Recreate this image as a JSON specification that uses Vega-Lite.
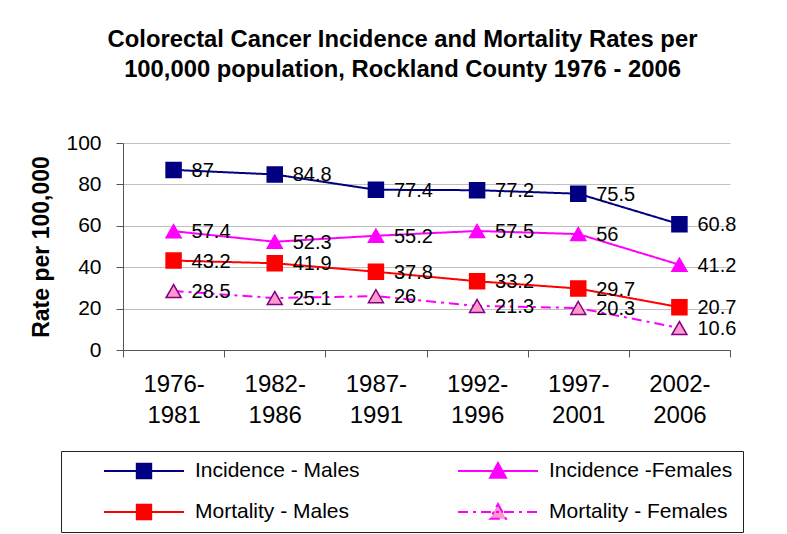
{
  "$schema": "https://vega.github.io/schema/vega-lite/v6.json",
  "width": 607,
  "height": 207,
  "autosize": {"type": "none"},
  "padding": {"left": 123, "top": 143, "right": 57, "bottom": 184},
  "background": "white",
  "config": {
    "font": "Liberation Sans",
    "view": {"stroke": null},
    "axis": {"labelFont": "Liberation Sans", "titleFont": "Liberation Sans"}
  },
  "title": {
    "text": ["Colorectal Cancer Incidence and Mortality Rates per", "100,000 population, Rockland County 1976 - 2006"],
    "fontSize": 23.8,
    "fontWeight": "bold",
    "lineHeight": 30,
    "anchor": "middle",
    "frame": "group",
    "dx": -24,
    "offset": 50,
    "color": "black"
  },
  "data": {
    "values": [
      {"period": "1976-1981", "series": "Incidence - Males", "value": 87},
      {"period": "1982-1986", "series": "Incidence - Males", "value": 84.8},
      {"period": "1987-1991", "series": "Incidence - Males", "value": 77.4},
      {"period": "1992-1996", "series": "Incidence - Males", "value": 77.2},
      {"period": "1997-2001", "series": "Incidence - Males", "value": 75.5},
      {"period": "2002-2006", "series": "Incidence - Males", "value": 60.8},
      {"period": "1976-1981", "series": "Incidence -Females", "value": 57.4},
      {"period": "1982-1986", "series": "Incidence -Females", "value": 52.3},
      {"period": "1987-1991", "series": "Incidence -Females", "value": 55.2},
      {"period": "1992-1996", "series": "Incidence -Females", "value": 57.5},
      {"period": "1997-2001", "series": "Incidence -Females", "value": 56},
      {"period": "2002-2006", "series": "Incidence -Females", "value": 41.2},
      {"period": "1976-1981", "series": "Mortality - Males", "value": 43.2},
      {"period": "1982-1986", "series": "Mortality - Males", "value": 41.9},
      {"period": "1987-1991", "series": "Mortality - Males", "value": 37.8},
      {"period": "1992-1996", "series": "Mortality - Males", "value": 33.2},
      {"period": "1997-2001", "series": "Mortality - Males", "value": 29.7},
      {"period": "2002-2006", "series": "Mortality - Males", "value": 20.7},
      {"period": "1976-1981", "series": "Mortality - Females", "value": 28.5},
      {"period": "1982-1986", "series": "Mortality - Females", "value": 25.1},
      {"period": "1987-1991", "series": "Mortality - Females", "value": 26},
      {"period": "1992-1996", "series": "Mortality - Females", "value": 21.3},
      {"period": "1997-2001", "series": "Mortality - Females", "value": 20.3},
      {"period": "2002-2006", "series": "Mortality - Females", "value": 10.6}
    ]
  },
  "encoding": {
    "x": {
      "field": "period", "type": "nominal", "sort": null,
      "scale": {"paddingInner": 0, "paddingOuter": 0},
      "axis": {
        "title": null, "labelAngle": 0, "labelFontSize": 24, "labelColor": "black",
        "labelExpr": "[slice(datum.label,0,5), slice(datum.label,5)]",
        "labelLineHeight": 31, "labelPadding": 15, "tickBand": "extent",
        "tickSize": 7, "tickColor": "#555", "domainColor": "#555", "grid": false
      }
    },
    "y": {
      "field": "value", "type": "quantitative",
      "scale": {"domain": [0, 100], "nice": false},
      "axis": {
        "title": "Rate per 100,000", "titleFontSize": 23, "titleFontWeight": "bold", "titleColor": "black",
        "titlePadding": 12,
        "values": [0, 20, 40, 60, 80, 100], "labelFontSize": 21, "labelColor": "black", "labelPadding": 15,
        "tickSize": 7, "tickColor": "#555", "domainColor": "#555",
        "gridColor": "#C0C0C0", "gridWidth": 1
      }
    }
  },
  "layer": [
    {
      "mark": {"type": "line", "strokeWidth": 2},
      "encoding": {
        "color": {
          "field": "series", "type": "nominal",
          "scale": {"domain": ["Incidence - Males", "Incidence -Females", "Mortality - Males", "Mortality - Females"],
                    "range": ["#000080", "#FF00FF", "#FF0000", "#FF00FF"]},
          "legend": {
            "title": null, "orient": "none", "legendX": -62, "legendY": 308,
            "direction": "horizontal", "columns": 2, "columnPadding": 65, "rowPadding": 20,
            "strokeColor": "#222", "padding": 10, "fillColor": "white",
            "labelFontSize": 21, "labelColor": "black", "labelFont": "Liberation Sans", "labelLimit": 600,
            "labelExpr": "indexof(datum.label, 'Females') >= 0 ? datum.label + '\u00a0\u00a0\u00a0\u00a0\u00a0\u00a0\u00a0\u00a0\u00a0\u00a0\u00a0\u00a0\u00a0\u00a0\u00a0' : datum.label",
            "symbolSize": 6400, "symbolStrokeWidth": 2, "symbolOffset": 32, "labelOffset": 10, "clipHeight": 20,
            "encode": {
              "symbols": {
                "update": {
                  "shape": {"signal": "(datum.value === 'Incidence - Males' || datum.value === 'Mortality - Males') ? 'M-1,0H1M-0.18,-0.18H0.18V0.18H-0.18Z' : 'M-1,0H1M0,-0.2L0.2,0.17H-0.2Z'"},
                  "fill": {"signal": "datum.value === 'Incidence - Males' ? '#000080' : datum.value === 'Mortality - Males' ? '#FF0000' : datum.value === 'Incidence -Females' ? '#FF00FF' : '#FF99CC'"},
                  "strokeDash": {"signal": "datum.value === 'Mortality - Females' ? [10,5,3,5] : [1,0]"},
                  "strokeWidth": {"value": 2},
                  "opacity": {"value": 1}
                }
              }
            }
          }
        },
        "strokeDash": {
          "field": "series", "type": "nominal",
          "scale": {"domain": ["Incidence - Males", "Incidence -Females", "Mortality - Males", "Mortality - Females"],
                    "range": [[1, 0], [1, 0], [1, 0], [10, 5, 3, 5]]},
          "legend": null
        }
      }
    },
    {
      "mark": {"type": "point", "filled": true, "size": 225, "strokeWidth": 1.5, "opacity": 1},
      "encoding": {
        "shape": {
          "field": "series", "type": "nominal",
          "scale": {"domain": ["Incidence - Males", "Incidence -Females", "Mortality - Males", "Mortality - Females"],
                    "range": ["square", "triangle-up", "square", "triangle-up"]},
          "legend": null
        },
        "fill": {
          "field": "series", "type": "nominal",
          "scale": {"domain": ["Incidence - Males", "Incidence -Females", "Mortality - Males", "Mortality - Females"],
                    "range": ["#000080", "#FF00FF", "#FF0000", "#FF99CC"]},
          "legend": null
        },
        "stroke": {
          "field": "series", "type": "nominal",
          "scale": {"domain": ["Incidence - Males", "Incidence -Females", "Mortality - Males", "Mortality - Females"],
                    "range": ["#000080", "#FF00FF", "#FF0000", "#800080"]},
          "legend": null
        }
      }
    },
    {
      "mark": {"type": "text", "align": "left", "baseline": "middle", "dx": 18, "dy": 1, "fontSize": 20, "color": "black"},
      "encoding": {
        "text": {"field": "value", "type": "nominal"}
      }
    }
  ],
  "resolve": {"scale": {"color": "independent", "fill": "independent", "stroke": "independent"}}
}
